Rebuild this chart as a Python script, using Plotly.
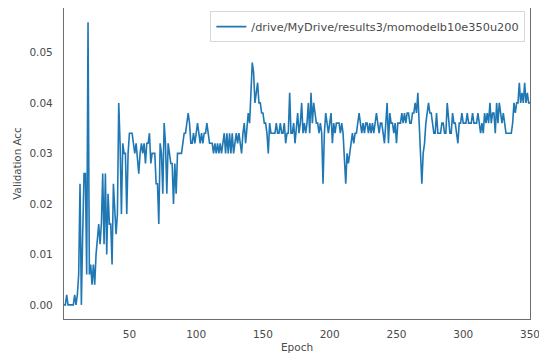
import plotly.graph_objects as go

epochs = list(range(1, 351))

acc_1_50 = [0.000, 0.000, 0.002, 0.000, 0.000, 0.000, 0.000, 0.000, 0.002, 0.000,
            0.002, 0.006, 0.024, 0.000, 0.014, 0.026, 0.026, 0.006, 0.056, 0.006,
            0.008, 0.004, 0.008, 0.004, 0.010, 0.014, 0.016, 0.012, 0.016, 0.026,
            0.012, 0.026, 0.010, 0.022, 0.016, 0.016, 0.008, 0.024, 0.018, 0.014,
            0.018, 0.040, 0.032, 0.018, 0.032, 0.030, 0.030, 0.018, 0.030, 0.034]
acc_51_100 = [0.034, 0.034, 0.032, 0.030, 0.032, 0.028, 0.026, 0.030, 0.032, 0.030,
              0.032, 0.028, 0.032, 0.032, 0.034, 0.028, 0.030, 0.030, 0.030, 0.024,
              0.024, 0.016, 0.032, 0.030, 0.022, 0.036, 0.032, 0.022, 0.032, 0.030,
              0.028, 0.028, 0.020, 0.028, 0.022, 0.030, 0.030, 0.030, 0.030, 0.032,
              0.034, 0.034, 0.036, 0.038, 0.036, 0.032, 0.032, 0.034, 0.032, 0.034]
acc_101_150 = [0.036, 0.034, 0.032, 0.034, 0.032, 0.034, 0.034, 0.036, 0.034, 0.032,
               0.032, 0.032, 0.030, 0.032, 0.030, 0.032, 0.030, 0.032, 0.030, 0.032,
               0.034, 0.030, 0.034, 0.030, 0.034, 0.030, 0.034, 0.030, 0.032, 0.034,
               0.032, 0.034, 0.032, 0.030, 0.034, 0.036, 0.032, 0.036, 0.038, 0.036,
               0.042, 0.048, 0.046, 0.040, 0.042, 0.044, 0.040, 0.040, 0.038, 0.038]
acc_151_200 = [0.036, 0.036, 0.034, 0.030, 0.036, 0.034, 0.034, 0.034, 0.034, 0.036,
               0.034, 0.034, 0.036, 0.034, 0.034, 0.036, 0.032, 0.034, 0.034, 0.042,
               0.034, 0.034, 0.036, 0.032, 0.036, 0.038, 0.034, 0.036, 0.040, 0.034,
               0.036, 0.034, 0.036, 0.040, 0.034, 0.042, 0.036, 0.040, 0.038, 0.036,
               0.036, 0.034, 0.036, 0.034, 0.024, 0.034, 0.038, 0.036, 0.034, 0.036]
acc_201_250 = [0.038, 0.032, 0.036, 0.034, 0.036, 0.036, 0.036, 0.034, 0.036, 0.034,
               0.030, 0.024, 0.030, 0.028, 0.030, 0.032, 0.034, 0.032, 0.034, 0.034,
               0.036, 0.038, 0.036, 0.034, 0.036, 0.034, 0.036, 0.036, 0.034, 0.036,
               0.034, 0.036, 0.034, 0.036, 0.038, 0.036, 0.034, 0.036, 0.036, 0.034,
               0.032, 0.036, 0.040, 0.032, 0.038, 0.036, 0.036, 0.034, 0.036, 0.032]
acc_251_300 = [0.036, 0.036, 0.036, 0.038, 0.036, 0.038, 0.036, 0.038, 0.038, 0.036,
               0.036, 0.038, 0.038, 0.040, 0.038, 0.042, 0.036, 0.030, 0.024, 0.030,
               0.032, 0.036, 0.038, 0.040, 0.038, 0.038, 0.036, 0.034, 0.034, 0.038,
               0.034, 0.034, 0.034, 0.036, 0.036, 0.034, 0.034, 0.040, 0.036, 0.034,
               0.034, 0.038, 0.036, 0.036, 0.034, 0.032, 0.036, 0.036, 0.038, 0.036]
acc_301_350 = [0.036, 0.036, 0.038, 0.036, 0.036, 0.036, 0.038, 0.036, 0.036, 0.036,
               0.038, 0.036, 0.034, 0.036, 0.034, 0.038, 0.036, 0.038, 0.036, 0.040,
               0.036, 0.038, 0.038, 0.034, 0.040, 0.036, 0.040, 0.038, 0.036, 0.038,
               0.036, 0.034, 0.034, 0.034, 0.034, 0.034, 0.036, 0.040, 0.038, 0.040,
               0.040, 0.044, 0.040, 0.042, 0.040, 0.044, 0.040, 0.042, 0.040, 0.040]

val_acc = acc_1_50 + acc_51_100 + acc_101_150 + acc_151_200 + acc_201_250 + acc_251_300 + acc_301_350

series_name = "/drive/MyDrive/results3/momodelb10e350u200"
x_ticks = [50, 100, 150, 200, 250, 300, 350]
y_ticks = [0.00, 0.01, 0.02, 0.03, 0.04, 0.05]

FONT = "DejaVu Sans"
TEXT = "#4a4a4a"
SPINE = "#6e6e6e"

fig = go.Figure()
fig.add_trace(go.Scatter(
    x=epochs, y=val_acc, mode="lines", name=series_name,
    line=dict(color="#1f77b4", width=1.6),
))

# page body adds an 8px margin, so the figure is 8px smaller than the window
fig.update_layout(
    width=539, height=352,
    margin=dict(l=56, r=17, t=0, b=41),
    paper_bgcolor="white", plot_bgcolor="white",
    font=dict(family=FONT, size=10.5, color=TEXT),
    showlegend=True,
    legend=dict(
        x=0.99, y=0.99, xanchor="right", yanchor="top",
        bgcolor="white", bordercolor="#d8d8d8", borderwidth=1,
        font=dict(family=FONT, size=11.3, color=TEXT),
        itemwidth=30,
    ),
)
fig.update_xaxes(
    range=[1, 350], tickvals=x_ticks, ticktext=[str(v) for v in x_ticks],
    showgrid=False, zeroline=False,
    showline=True, linecolor=SPINE, linewidth=1.2, mirror=True,
    ticks="", ticklabelstandoff=5,
    title=dict(text="Epoch", font=dict(family=FONT, size=10.5, color=TEXT), standoff=4),
)
fig.update_yaxes(
    range=[-0.0028, 0.0588], tickvals=y_ticks, ticktext=[f"{v:.2f}" for v in y_ticks],
    showgrid=False, zeroline=False,
    showline=True, linecolor=SPINE, linewidth=1.2, mirror=True,
    ticks="", ticklabelstandoff=8,
    title=dict(text="Validation Acc", font=dict(family=FONT, size=10.3, color=TEXT), standoff=5),
)

fig.write_html("out.html")
